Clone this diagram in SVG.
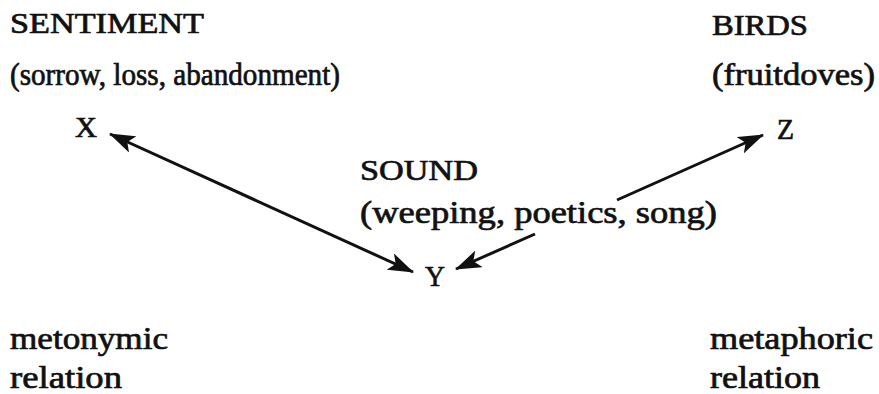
<svg xmlns="http://www.w3.org/2000/svg" width="879" height="394" viewBox="0 0 879 394">
<style>
text{font-family:"Liberation Serif","Times New Roman",serif;font-size:31px;fill:#111;stroke:#111;stroke-width:0.7px}
.cap{font-size:29px}
.conn line{stroke:#111;stroke-width:3;fill:none}
</style>
<defs>
<marker id="ah" markerUnits="userSpaceOnUse" markerWidth="26" markerHeight="18" viewBox="0 0 26 18" refX="25" refY="9" orient="auto-start-reverse">
<path d="M0,0 L26,9 L0,18 L6,9 Z" fill="#111"/>
</marker>
</defs>
<rect width="879" height="394" fill="#fff"/>
<g id="sentiment">
<text class="cap" x="10" y="33" textLength="194" lengthAdjust="spacingAndGlyphs">SENTIMENT</text>
<text x="10" y="85" textLength="330" lengthAdjust="spacingAndGlyphs">(sorrow, loss, abandonment)</text>
<text class="cap" x="75" y="137" textLength="22" lengthAdjust="spacingAndGlyphs">X</text>
</g>
<g id="birds">
<text class="cap" x="712" y="35" textLength="96" lengthAdjust="spacingAndGlyphs">BIRDS</text>
<text x="712" y="85" textLength="163" lengthAdjust="spacingAndGlyphs">(fruitdoves)</text>
<text class="cap" x="777" y="139" textLength="17" lengthAdjust="spacingAndGlyphs">Z</text>
</g>
<g id="sound">
<text class="cap" x="360" y="180" textLength="118" lengthAdjust="spacingAndGlyphs">SOUND</text>
<text x="360" y="223" textLength="357" lengthAdjust="spacingAndGlyphs">(weeping, poetics, song)</text>
<text class="cap" x="425" y="286" textLength="20" lengthAdjust="spacingAndGlyphs">Y</text>
</g>
<g id="metonymic">
<text x="10" y="349" textLength="158" lengthAdjust="spacingAndGlyphs">metonymic</text>
<text x="10" y="388" textLength="112" lengthAdjust="spacingAndGlyphs">relation</text>
</g>
<g id="metaphoric">
<text x="710" y="349" textLength="163" lengthAdjust="spacingAndGlyphs">metaphoric</text>
<text x="710" y="388" textLength="110" lengthAdjust="spacingAndGlyphs">relation</text>
</g>
<g id="connectors" class="conn">
<line x1="110" y1="134" x2="413" y2="272" marker-start="url(#ah)" marker-end="url(#ah)"/>
<line x1="535" y1="234" x2="456" y2="269" marker-end="url(#ah)"/>
<line x1="617" y1="200" x2="763" y2="135" marker-end="url(#ah)"/>
</g>
</svg>
